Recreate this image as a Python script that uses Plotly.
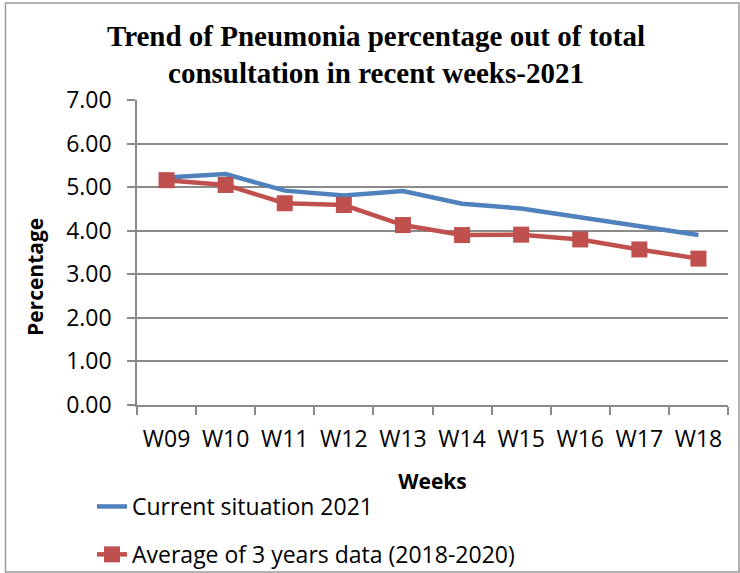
import plotly.graph_objects as go

weeks = ["W09", "W10", "W11", "W12", "W13", "W14", "W15", "W16", "W17", "W18"]
current_2021 = [5.22, 5.30, 4.92, 4.81, 4.91, 4.62, 4.51, 4.31, 4.11, 3.90]
avg_2018_2020 = [5.16, 5.05, 4.63, 4.59, 4.13, 3.90, 3.91, 3.80, 3.57, 3.36]
y_ticks = [0, 1, 2, 3, 4, 5, 6, 7]

W, H = 740, 573
L, R, T, B = 137, 12, 100, 168
PW, PH = W - L - R, H - T - B

fig = go.Figure()
fig.add_trace(go.Scatter(
    x=weeks, y=current_2021, mode="lines", name="Current situation 2021",
    line=dict(color="#4F81BD", width=4.5), legendgroup="a",
))
fig.add_trace(go.Scatter(
    x=weeks, y=avg_2018_2020, mode="lines+markers", name="Average of 3 years data (2018-2020)",
    line=dict(color="#C0504D", width=4.5), legendgroup="b",
    marker=dict(symbol="square", size=16, color="#C0504D"),
))

ff = "Open Sans"
grid = "#8a8a8a"
fig.update_layout(
    width=W, height=H,
    margin=dict(l=L, r=R, t=T, b=B, autoexpand=False),
    paper_bgcolor="white", plot_bgcolor="white",
    title=dict(
        text="Trend of Pneumonia percentage out of total<br>consultation in recent weeks-2021",
        font=dict(family="Liberation Serif", size=29, color="black", weight="bold"),
        xref="container", yref="container",
        x=376 / W, xanchor="center", y=1 - 45.5 / H, yanchor="middle",
    ),
    font=dict(family=ff, size=23, color="black"),
    showlegend=True,
    legend=dict(
        xref="container", yref="container",
        x=92 / W, xanchor="left", y=1 - 485 / H, yanchor="top",
        orientation="v", traceorder="grouped", tracegroupgap=15,
        font=dict(family=ff, size=23, color="black"),
        bgcolor="rgba(0,0,0,0)",
    ),
    xaxis=dict(
        type="category", range=[-0.5, len(weeks) - 0.5], showgrid=False,
        showline=True, linecolor=grid, linewidth=1.5,
        ticks="outside", tickson="boundaries", ticklen=8, tickcolor=grid, tickwidth=1.5,
        tickangle=0, ticklabelstandoff=13, automargin=False,
        title=dict(text="<b>Weeks</b>", font=dict(family=ff, size=21), standoff=21),
        tickfont=dict(family=ff, size=23),
    ),
    yaxis=dict(
        range=[0, 7], tickvals=y_ticks, tickformat=".2f", showgrid=True, gridcolor=grid,
        gridwidth=1.5, showline=True, linecolor=grid, linewidth=1.5,
        ticks="outside", ticklen=8, tickcolor=grid, tickwidth=1.5, zeroline=False,
        ticklabelstandoff=11, automargin=False,
        tickfont=dict(family=ff, size=23),
    ),
    annotations=[dict(
        text="<b>Percentage</b>", textangle=-90, showarrow=False,
        xref="paper", yref="paper", x=(35 - L) / PW, y=(H - B - 277) / PH,
        xanchor="center", yanchor="middle",
        font=dict(family=ff, size=21, color="black"),
    )],
    shapes=[dict(type="rect", xref="paper", yref="paper",
                 x0=(5.5 - L) / PW, x1=(739 - L) / PW,
                 y0=(H - B - 572) / PH, y1=(H - B - 3) / PH,
                 line=dict(color="#9a9a9a", width=1.5), fillcolor="rgba(0,0,0,0)", layer="below")],
)

fig.write_html("out.html", config={"displayModeBar": False},
               post_script="document.body.style.margin='0';")
